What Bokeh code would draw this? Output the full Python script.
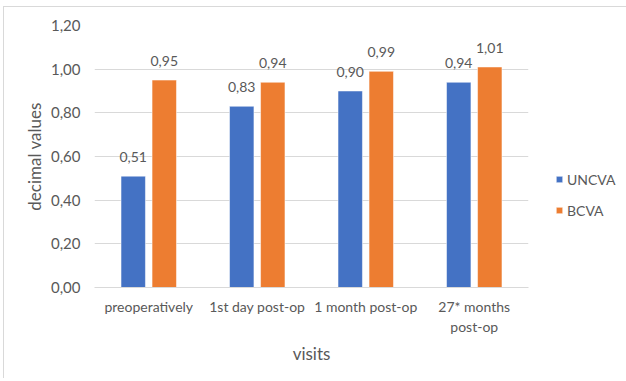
from bokeh.plotting import figure
from bokeh.models import (ColumnDataSource, FactorRange, Range1d, FixedTicker,
                          CustomJSTickFormatter, Legend, LegendItem, LabelSet)
from bokeh.core.properties import value
from bokeh.transform import dodge
from bokeh.embed import file_html
from bokeh.resources import INLINE

visits = ["preoperatively", "1st day post-op", "1 month post-op", "27* months\npost-op"]
uncva = [0.51, 0.83, 0.90, 0.94]
bcva = [0.95, 0.94, 0.99, 1.01]
y_ticks = [0.0, 0.2, 0.4, 0.6, 0.8, 1.0, 1.2]

BLUE = "#4472C4"
ORANGE = "#ED7D31"
GREY = "#595959"
FONT = "Lato"

src = ColumnDataSource(dict(
    visits=visits,
    uncva=uncva,
    bcva=bcva,
    uncva_lbl=[f"{v:.2f}".replace(".", ",") for v in uncva],
    bcva_lbl=[f"{v:.2f}".replace(".", ",") for v in bcva],
))

p = figure(x_range=FactorRange(*visits, range_padding=0), y_range=Range1d(0, 1.2),
           frame_width=434, frame_height=262,
           output_backend="svg", toolbar_location=None,
           min_border_left=90, min_border_top=18, min_border_bottom=91, min_border_right=0)
p.outline_line_color = None
p.styles = {"border-left": "1px solid #d9d9d9", "border-top": "1px solid #d9d9d9",
            "margin-left": "3px", "margin-top": "6px"}

r1 = p.vbar(x=dodge("visits", -0.143, range=p.x_range), top="uncva", width=0.225,
            source=src, color=BLUE, line_color="white", line_width=0.5)
r2 = p.vbar(x=dodge("visits", 0.143, range=p.x_range), top="bcva", width=0.225,
            source=src, color=ORANGE, line_color="white", line_width=0.5)

for field, lbl, off in (("uncva", "uncva_lbl", -0.143), ("bcva", "bcva_lbl", 0.143)):
    ls = LabelSet(x=dodge("visits", off, range=p.x_range), y=field, text=lbl, source=src,
                  text_align="center", text_baseline="bottom", y_offset=14,
                  text_font=value(FONT), text_font_size=value("14px"), text_color=GREY)
    p.add_layout(ls)

# axes
p.yaxis.ticker = FixedTicker(ticks=y_ticks)
p.yaxis.formatter = CustomJSTickFormatter(code="return tick.toFixed(2).replace('.', ',');")
p.yaxis.axis_line_color = None
p.yaxis.major_tick_line_color = None
p.yaxis.minor_tick_line_color = None
p.yaxis.major_label_standoff = 8
p.yaxis.axis_label = "decimal values"
p.yaxis.axis_label_standoff = 3

p.xaxis.axis_line_color = "#d9d9d9"
p.xaxis.major_tick_line_color = None
p.xaxis.minor_tick_line_color = None
p.xaxis.major_label_standoff = 4
p.xaxis.axis_label = "visits"
p.xaxis.axis_label_standoff = 5

for ax in (p.xaxis, p.yaxis):
    ax.major_label_text_font = FONT
    ax.major_label_text_color = GREY
    ax.axis_label_text_font = FONT
    ax.axis_label_text_font_size = "17px"
    ax.axis_label_text_font_style = "normal"
    ax.axis_label_text_color = GREY
p.xaxis.major_label_text_font_size = "14px"
p.yaxis.major_label_text_font_size = "15px"

p.xgrid.grid_line_color = None
p.ygrid.grid_line_color = "#d9d9d9"
p.ygrid.ticker = FixedTicker(ticks=y_ticks)

legend = Legend(items=[LegendItem(label="UNCVA", renderers=[r1]),
                       LegendItem(label="BCVA", renderers=[r2])],
                location=(27, 67), orientation="vertical",
                glyph_width=8, glyph_height=8, label_standoff=4,
                label_height=20, spacing=11, padding=0, margin=0,
                border_line_color=None, background_fill_alpha=0,
                label_text_font=FONT, label_text_font_size="14px", label_text_color=GREY)
p.add_layout(legend, "right")

open("out.html", "w").write(file_html(p, INLINE))
